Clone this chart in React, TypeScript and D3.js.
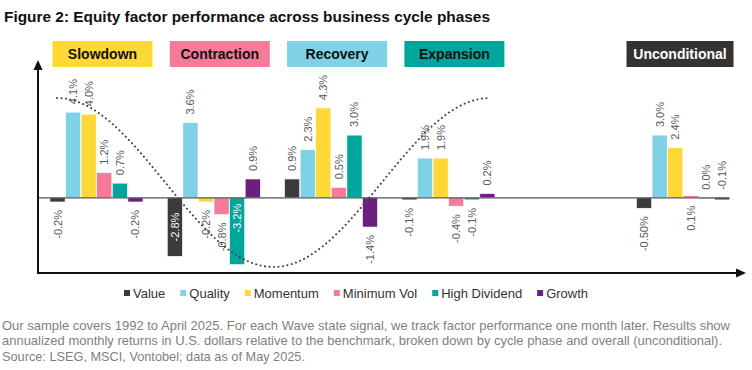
import React, { useRef, useEffect } from 'react';
import * as d3 from 'd3';

const factors = ['Value', 'Quality', 'Momentum', 'Minimum Vol', 'High Dividend', 'Growth'];
const phases = ['Slowdown', 'Contraction', 'Recovery', 'Expansion', 'Unconditional'];

const slowdown = [-0.2, 4.1, 4.0, 1.2, 0.7, -0.2];
const contraction = [-2.8, 3.6, -0.2, -0.8, -3.2, 0.9];
const recovery = [0.9, 2.3, 4.3, 0.5, 3.0, -1.4];
const expansion = [-0.1, 1.9, 1.9, -0.4, -0.1, 0.2];
const unconditional = [-0.5, 3.0, 2.4, 0.1, 0.0, -0.1];

const seriesByPhase: Record<string, number[]> = {
  Slowdown: slowdown,
  Contraction: contraction,
  Recovery: recovery,
  Expansion: expansion,
  Unconditional: unconditional,
};

// label text overrides where the source shows different precision
const labelOverrides: Record<string, string> = { 'Unconditional|Value': '-0.50%' };

// label placement quirks of the original ("in" = centred in bar, "base" = inside near zero, "flip" = other side)
const labelModes: Record<string, string> = {
  'Contraction|Value': 'in',
  'Contraction|High Dividend': 'base',
  'Unconditional|Minimum Vol': 'flip',
  'Unconditional|Growth': 'flip',
};

const factorColors = ['#3b3b3b', '#7fd2e6', '#fed935', '#f57b98', '#00a59b', '#6b1f7f'];
const phaseColors = ['#fed935', '#f57b98', '#7fd2e6', '#00a59b', '#333333'];

const footer = [
  'Our sample covers 1992 to April 2025. For each Wave state signal, we track factor performance one month later. Results show',
  'annualized monthly returns in U.S. dollars relative to the benchmark, broken down by cycle phase and overall (unconditional).',
  'Source: LSEG, MSCI, Vontobel; data as of May 2025.',
];
const footerWidths = [728, 720, 303];

const App = () => {
  const svgRef = useRef<SVGSVGElement>(null);

  useEffect(() => {
    const width = 752;
    const height = 370;
    const font = 'Liberation Sans, Arial, sans-serif';

    const svg = d3.select(svgRef.current);
    svg.selectAll('*').remove();
    svg.attr('width', width).attr('height', height);

    svg.append('rect').attr('width', width).attr('height', height).attr('fill', '#fff');

    // title
    svg.append('text')
      .attr('x', 4)
      .attr('y', 22)
      .attr('textLength', 486)
      .attr('lengthAdjust', 'spacingAndGlyphs')
      .style('font-family', font)
      .style('font-size', '15.5px')
      .style('font-weight', 'bold')
      .attr('fill', '#111')
      .text('Figure 2: Equity factor performance across business cycle phases');

    const axisX = 38;
    const axisY = 273;

    // bands: an empty slot sits between Expansion and Unconditional
    const slots = ['Slowdown', 'Contraction', 'Recovery', 'Expansion', '__gap', 'Unconditional'];
    const x0 = d3.scaleBand().domain(slots).range([axisX, 741.5]).paddingInner(0.207).paddingOuter(0.102);
    const x1 = d3.scaleBand().domain(factors).range([0, x0.bandwidth()]).paddingInner(0.03);
    const y = d3.scaleLinear().domain([-3.6, 6.5]).range([axisY, 62]);

    // phase boxes
    const boxes = svg.append('g');
    phases.forEach((p, i) => {
      const bw = p === 'Unconditional' ? 107 : 100;
      const cx = (x0(p) ?? 0) + x0.bandwidth() / 2 + (p === 'Unconditional' ? -3 : 6);
      boxes.append('rect')
        .attr('x', cx - bw / 2)
        .attr('y', 41)
        .attr('width', bw)
        .attr('height', 26)
        .attr('fill', phaseColors[i]);
      boxes.append('text')
        .attr('x', cx)
        .attr('y', 59)
        .attr('text-anchor', 'middle')
        .style('font-family', font)
        .style('font-size', '14px')
        .style('font-weight', 'bold')
        .attr('fill', p === 'Unconditional' ? '#fff' : '#111')
        .text(p);
    });

    // bars
    const bars = svg.append('g');
    phases.forEach((p) => {
      const g = bars.append('g').attr('transform', `translate(${x0(p)},0)`);
      g.selectAll('rect')
        .data(seriesByPhase[p])
        .join('rect')
        .attr('x', (d, i) => x1(factors[i]) ?? 0)
        .attr('width', x1.bandwidth())
        .attr('y', d => y(Math.max(0, d)))
        .attr('height', d => Math.max(1, Math.abs(y(d) - y(0))))
        .attr('fill', (d, i) => factorColors[i])
        .attr('stroke', '#fff')
        .attr('stroke-width', 0.6);
    });

    // baseline at zero
    svg.append('line')
      .attr('x1', axisX)
      .attr('x2', (x0('Unconditional') ?? 0) + x0.bandwidth())
      .attr('y1', y(0))
      .attr('y2', y(0))
      .attr('stroke', '#555')
      .attr('stroke-width', 1.2);

    // decorative business-cycle wave (schematic, not data)
    const waveStart = 57;
    const waveEnd = 490;
    const waveTop = 98;
    const waveBottom = 267;
    const wavePts = d3.range(0, 1.0001, 0.01).map(t => [
      waveStart + t * (waveEnd - waveStart),
      (waveTop + waveBottom) / 2 + ((waveTop - waveBottom) / 2) * Math.cos(2 * Math.PI * t),
    ] as [number, number]);
    svg.append('path')
      .attr('d', d3.line()(wavePts))
      .attr('fill', 'none')
      .attr('stroke', '#444')
      .attr('stroke-width', 2)
      .attr('stroke-linecap', 'round')
      .attr('stroke-dasharray', '0.1 4.4');

    // value labels (plain hyphen for the minus sign, as in the source)
    const labels = svg.append('g');
    const fmt = d3.formatLocale({ decimal: '.', thousands: ',', grouping: [3], currency: ['', ''], minus: '-' }).format('.1f');
    phases.forEach((p) => {
      seriesByPhase[p].forEach((v, i) => {
        const key = `${p}|${factors[i]}`;
        const text = labelOverrides[key] ?? `${fmt(v)}%`;
        const mode = labelModes[key] ?? 'out';
        const cx = (x0(p) ?? 0) + (x1(factors[i]) ?? 0) + x1.bandwidth() / 2;
        let above = v >= 0;
        if (mode === 'flip') above = !above;
        let ly = 0;
        let anchor = 'start';
        let fill = '#595959';
        if (mode === 'in') {
          ly = (y(0) + y(v)) / 2;
          anchor = 'middle';
          fill = '#fff';
        } else if (mode === 'base') {
          ly = y(0) + 6;
          anchor = 'end';
          fill = '#fff';
        } else if (above) {
          ly = (v >= 0 ? y(v) : y(0)) - 8;
          anchor = 'start';
        } else {
          ly = (v < 0 ? y(v) : y(0)) + 8;
          anchor = 'end';
        }
        labels.append('text')
          .attr('transform', `translate(${cx + 4},${ly}) rotate(-90)`)
          .attr('text-anchor', anchor)
          .style('font-family', font)
          .style('font-size', '11px')
          .attr('fill', fill)
          .text(text);
      });
    });

    // axes with arrow heads
    svg.append('line')
      .attr('x1', axisX).attr('x2', axisX)
      .attr('y1', axisY + 1).attr('y2', 68)
      .attr('stroke', '#111').attr('stroke-width', 2);
    svg.append('path')
      .attr('d', `M${axisX},60 L${axisX - 4.5},70 L${axisX + 4.5},70 Z`)
      .attr('fill', '#111');
    svg.append('line')
      .attr('x1', axisX - 1).attr('x2', 738)
      .attr('y1', axisY).attr('y2', axisY)
      .attr('stroke', '#111').attr('stroke-width', 2);
    svg.append('path')
      .attr('d', `M746,${axisY} L736,${axisY - 4.5} L736,${axisY + 4.5} Z`)
      .attr('fill', '#111');

    // legend
    const legend = svg.append('g');
    let lx = 124;
    factors.forEach((f, i) => {
      legend.append('rect')
        .attr('x', lx)
        .attr('y', 290)
        .attr('width', 6)
        .attr('height', 6)
        .attr('fill', factorColors[i]);
      const t = legend.append('text')
        .attr('x', lx + 9)
        .attr('y', 297.5)
        .style('font-family', font)
        .style('font-size', '13px')
        .attr('fill', '#333')
        .text(f);
      const w = (t.node() as SVGTextElement).getComputedTextLength();
      lx += 9 + w + 15;
    });

    // footnote
    footer.forEach((line, i) => {
      svg.append('text')
        .attr('x', 2)
        .attr('y', 330 + i * 15.3)
        .attr('textLength', footerWidths[i])
        .attr('lengthAdjust', 'spacingAndGlyphs')
        .style('font-family', font)
        .style('font-size', '13px')
        .attr('fill', '#7f7f7f')
        .text(line);
    });
  }, []);

  return (
    <svg ref={svgRef} style={{ position: 'absolute', left: 0, top: 0, display: 'block' }}></svg>
  );
};

export default App;
